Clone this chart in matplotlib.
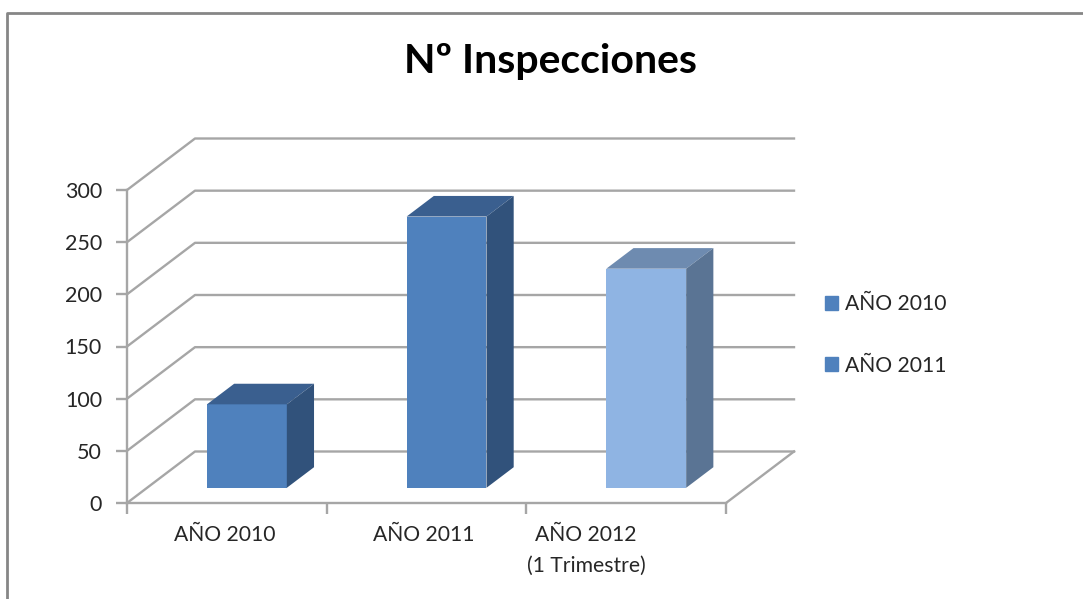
import numpy as np
from matplotlib import pyplot as plt
from matplotlib.lines import Line2D
from matplotlib.patches import Patch

categories = ['AÑO 2010', 'AÑO 2011', 'AÑO 2012\n(1 Trimestre)']
values = [80, 260, 210]
y_ticks = [0, 50, 100, 150, 200, 250, 300]
legend_labels = ['AÑO 2010', 'AÑO 2011']
title = 'Nº Inspecciones'

front_colors = ['#4F81BD', '#4F81BD', '#8FB4E3']
top_colors = ['#3A5F8F', '#3A5F8F', '#6E8BB0']
side_colors = ['#31527B', '#31527B', '#5A7494']
grid_color = '#A6A6A6'
text_color = '#262626'

W, H = 1083, 599
plt.rcParams['font.family'] = ['Lato', 'DejaVu Sans']

fig = plt.figure(figsize=(W / 100, H / 100), dpi=100)
ax = fig.add_axes([127 / W, (H - 503) / H, 599 / W, 313 / H])
ax.set_xlim(0, 3)
ax.set_ylim(0, 300)
ax.patch.set_visible(False)

# depth of the fake 3d box, in data units
DX = 68 / (599 / 3)
DY = 51.5 / (313 / 300)
BAR_W = 0.4
BAR_START = 0.295
BAR_DEPTH = 0.4


def proj(x, y, depth):
    return x + depth * DX, y + depth * DY


# walls and floor
for v in y_ticks:
    x0, y0 = proj(0, v, 0)
    x1, y1 = proj(0, v, 1)
    x2, y2 = proj(3, v, 1)
    ax.plot([x0, x1, x2], [y0, y1, y2], color=grid_color, lw=1.7, clip_on=False, zorder=1)
x0, y0 = proj(3, 0, 0)
x1, y1 = proj(3, 0, 1)
ax.plot([x0, x1], [y0, y1], color=grid_color, lw=1.7, clip_on=False, zorder=1)

# bars
for i, v in enumerate(values):
    cx = i + 0.5
    xl, y_base = proj(cx - BAR_W / 2, 0, BAR_START)
    xr = xl + BAR_W
    ax.bar(xl, v, width=BAR_W, bottom=y_base, align='edge', color=front_colors[i], zorder=3, clip_on=False)
    off_x = BAR_DEPTH * DX
    off_y = BAR_DEPTH * DY
    y_top = y_base + v
    ax.fill([xl, xr, xr + off_x, xl + off_x], [y_top, y_top, y_top + off_y, y_top + off_y],
            color=top_colors[i], lw=0, zorder=3, clip_on=False)
    ax.fill([xr, xr + off_x, xr + off_x, xr], [y_base, y_base + off_y, y_top + off_y, y_top],
            color=side_colors[i], lw=0, zorder=3, clip_on=False)

for s in ['top', 'right']:
    ax.spines[s].set_visible(False)
for s in ['left', 'bottom']:
    ax.spines[s].set_color(grid_color)
    ax.spines[s].set_linewidth(1.7)

ax.set_yticks(y_ticks)
ax.set_xticks([0, 1, 2, 3])
ax.set_xticklabels([])
ax.tick_params(axis='both', which='major', length=8, width=1.7, color=grid_color,
               labelsize=15.5, labelcolor=text_color, pad=10)
# labels sit off centre in the original, third one especially
ax.set_xticks([0.49, 1.487, 2.30], labels=categories, minor=True)
ax.tick_params(axis='x', which='minor', length=0, labelsize=15.2, labelcolor=text_color, pad=16)
for lab in ax.get_xticklabels(minor=True):
    lab.set_linespacing(1.65)

leg = ax.legend(handles=[Patch(color=front_colors[0], label=legend_labels[0]),
                         Patch(color=front_colors[1], label=legend_labels[1])],
                loc='upper left', bbox_to_anchor=(825 / W, (H - 294.5) / H),
                bbox_transform=fig.transFigure, frameon=False, fontsize=15.2,
                handlelength=0.62, handleheight=0.62, handletextpad=0.33,
                labelspacing=1.95, labelcolor=text_color, borderpad=0, borderaxespad=0)

fig.text(551 / W, (H - 62) / H, title, ha='center', va='center', fontsize=29.5, fontweight='bold', color='black')

# chart frame, cut off by the screenshot on right and bottom
fig.add_artist(Line2D([7 / W, 7 / W, 1], [0, (H - 13) / H, (H - 13) / H], color='#868686', lw=2,
                      transform=fig.transFigure))

plt.savefig('out.png', dpi=100)
